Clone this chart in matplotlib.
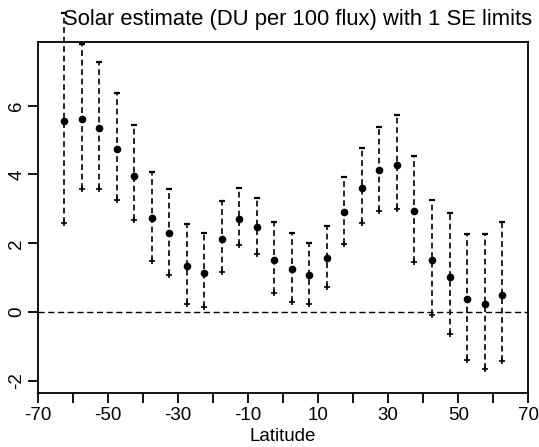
import matplotlib
matplotlib.use("Agg")
import matplotlib.pyplot as plt
import numpy as np

plt.rcParams['font.family'] = ['Liberation Sans', 'DejaVu Sans']
plt.rcParams['axes.unicode_minus'] = False

# latitude band centres
lat = np.arange(-62.5, 65, 5)
est = [5.55, 5.60, 5.34, 4.75, 3.97, 2.74, 2.29, 1.35, 1.14, 2.13, 2.72, 2.46, 1.51,
       1.26, 1.07, 1.56, 2.91, 3.62, 4.13, 4.29, 2.95, 1.51, 1.03, 0.38, 0.23, 0.51]
upper = [8.70, 7.78, 7.28, 6.38, 5.44, 4.08, 3.58, 2.55, 2.31, 3.24, 3.62, 3.32, 2.61,
         2.31, 2.01, 2.51, 3.93, 4.76, 5.39, 5.74, 4.54, 3.27, 2.87, 2.26, 2.26, 2.62]
lower = [2.60, 3.57, 3.57, 3.25, 2.67, 1.48, 1.09, 0.25, 0.14, 1.18, 1.94, 1.69, 0.56,
         0.30, 0.23, 0.72, 1.99, 2.60, 2.95, 2.99, 1.46, -0.09, -0.65, -1.40, -1.66, -1.42]

fig = plt.figure(figsize=(5.39, 4.47), dpi=100)
ax = fig.add_axes([38 / 539, 1 - 393.3 / 447, 490.3 / 539, 351.6 / 447])

for x, lo, hi in zip(lat, lower, upper):
    ax.plot([x, x], [lo, hi], color='black', lw=1.2, linestyle=(0, (3.5, 2.2)), clip_on=False)
ax.plot(lat, est, 'o', color='black', ms=4.5, clip_on=False)
ax.plot(lat, upper, '_', color='black', ms=5, mew=1.6, clip_on=False)
ax.plot(lat, lower, '+', color='black', ms=4.5, mew=1.2, clip_on=False)
ax.axhline(0, color='black', lw=1.0, linestyle=(0, (4.5, 2.5)))

ax.set_xlim(-70, 70)
ax.set_ylim(-2.36, 7.86)
ax.set_xticks(np.arange(-70, 71, 20))
ax.set_xticks(np.arange(-60, 61, 20), minor=True)
ax.set_yticks([-2, 0, 2, 4, 6])
ax.tick_params(which='both', direction='out', length=7, width=1.3, labelsize=13.5)
ax.tick_params(axis='x', pad=3)
ax.tick_params(axis='y', pad=2)
for lab in ax.get_yticklabels():
    lab.set_rotation(90)
    lab.set_va('center')
for s in ax.spines.values():
    s.set_linewidth(1.3)

ax.set_xlabel('Latitude', fontsize=13.5, labelpad=3)
fig.text(298 / 539, 1 - 20 / 447, 'Solar estimate (DU per 100 flux) with 1 SE limits',
         ha='center', va='center', fontsize=15.8)

fig.savefig('out.png', dpi=100)
